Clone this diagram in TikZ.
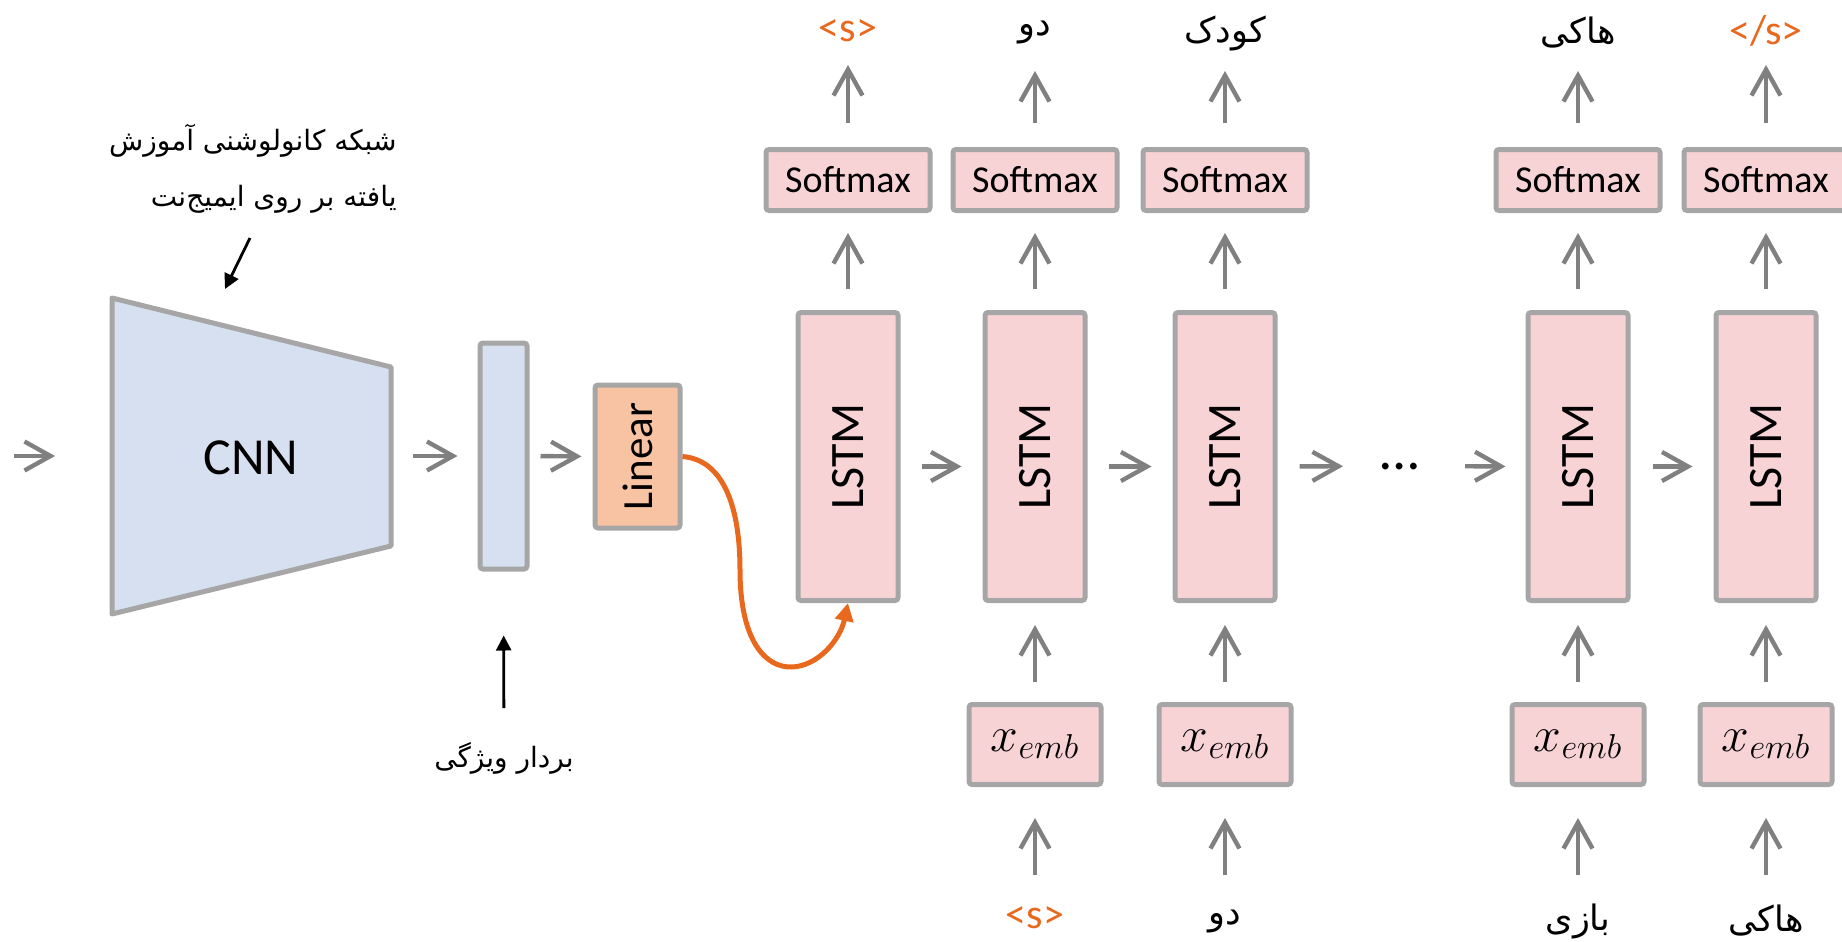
\documentclass[tikz,border=0pt]{standalone}
\usepackage{fontspec}
\setmainfont{Carlito}
\newfontfamily\fa[Script=Arabic]{DejaVu Sans}
\TeXXeTstate=1
\usetikzlibrary{arrows.meta,calc}
\definecolor{bord}{HTML}{A6A6A6}
\definecolor{garr}{HTML}{808080}
\definecolor{pinkf}{HTML}{F8D3D6}
\definecolor{bluef}{HTML}{D6E0F0}
\definecolor{linf}{HTML}{F7C3A3}
\definecolor{orng}{HTML}{E8681E}
\begin{document}
\begin{tikzpicture}[x=0.5pt,y=-0.5pt,
  box/.style={draw=bord,line width=2.5pt,rounded corners=1.5pt,inner sep=0pt},
  lstm/.style={box,fill=pinkf,minimum width=50pt,minimum height=144pt,font=\fontsize{24}{28}\selectfont},
  smax/.style={box,fill=pinkf,minimum width=82pt,minimum height=30.5pt,font=\fontsize{19}{22}\selectfont},
  emb/.style={box,fill=pinkf,minimum width=66pt,minimum height=40pt,font=\fontsize{26}{30}\selectfont},
  garrow/.style={draw=garr,line width=2.2pt,-{Straight Barb[length=13pt,width=14.5pt,line width=2.2pt]}},
  blk/.style={draw=black,line width=1.4pt,-{Triangle[length=7.5pt,width=7.5pt]}},
  lab/.style={font=\fontsize{17.5}{22}\selectfont\fa,inner sep=0pt},
  olab/.style={font=\fontsize{21}{24}\selectfont,text=orng,inner sep=0pt},
  ann/.style={font=\fontsize{14}{28}\selectfont\fa,inner sep=0pt,align=right}
]
\useasboundingbox (0,0) rectangle (1842,942);

% CNN
\draw[draw=bord,fill=bluef,line width=2.5pt,line join=round] (112,298) -- (391,367) -- (391,546) -- (112,614) -- cycle;
\node[font=\fontsize{26}{30}\selectfont] (cnn) at (251,458) {CNN};
\coordinate (in) at (14,456);
\coordinate (cnnL) at (112,456);
\coordinate (cnnR) at (391,456);

% feature vector and linear
\node[box,fill=bluef,minimum width=23.5pt,minimum height=113pt] (feat) at (503.5,456) {};
\node[box,fill=linf,minimum width=42.5pt,minimum height=71.5pt,font=\fontsize{21.5}{24}\selectfont] (lin) at (637.5,456.5) {\rotatebox{90}{Linear}};

\draw[garrow,shorten >=28.5pt] (in) -- (cnnL);
\draw[garrow,shorten <=11pt,shorten >=10pt] (cnnR) -- (feat.west);
\draw[garrow,shorten <=5.5pt,shorten >=5.5pt] (feat.east) -- (lin.west);

% LSTMs
\foreach \i/\x in {1/848,2/1035,3/1225,4/1578,5/1766}{
  \node[lstm] (L\i) at (\x,456.5) {\rotatebox{90}{LSTM}};
  \node[smax] (S\i) at (\x,180) {Softmax};
  \draw[garrow,shorten <=10.5pt,shorten >=10pt] (L\i.north) -- (S\i.south);
}
\foreach \i/\x in {2/1035,3/1225,4/1578,5/1766}{
  \node[emb] (E\i) at (\x,744.5) {$x_{emb}$};
  \draw[garrow,shorten <=10pt,shorten >=11pt] (E\i.north) -- (L\i.south);
}

% top labels
\node[olab] (t1) at (848,31) {<s>};
\node[lab] (t2) at (1035,33) {\beginR دو\endR};
\node[lab] (t3) at (1225,33) {\beginR کودک\endR};
\node[lab] (t4) at (1578,33) {\beginR هاکی\endR};
\node[olab] (t5) at (1766,31) {</s>};
\foreach \i/\s in {1/17,2/19,3/19,4/19,5/17}{
  \draw[garrow,shorten <=12pt,shorten >=\s pt] (S\i.north) -- (t\i.center);
}

% bottom labels
\node[olab] (b2) at (1035,918) {<s>};
\node[lab] (b3) at (1225,921) {\beginR دو\endR};
\node[lab] (b4) at (1578,921) {\beginR بازی\endR};
\node[lab] (b5) at (1766,921) {\beginR هاکی\endR};
\foreach \i/\s in {2/21.5,3/23,4/23,5/23}{
  \draw[garrow,shorten <=\s pt,shorten >=15.5pt] (b\i.center) -- (E\i.south);
}

% horizontal recurrent arrows
\node[font=\fontsize{28}{32}\selectfont,inner sep=0pt,anchor=base] (dots) at (1400,469) {\ldots};
\coordinate (dotsC) at (1400,466);
\draw[garrow,shorten <=10.5pt,shorten >=10.5pt] ($(L1.east)+(0,10)$) -- ($(L2.west)+(0,10)$);
\draw[garrow,shorten <=10.5pt,shorten >=10.5pt] ($(L2.east)+(0,10)$) -- ($(L3.west)+(0,10)$);
\draw[garrow,shorten <=11pt,shorten >=28.5pt] ($(L3.east)+(0,10)$) -- (dotsC);
\draw[garrow,shorten <=32.5pt,shorten >=10pt] (dotsC) -- ($(L4.west)+(0,10)$);
\draw[garrow,shorten <=11pt,shorten >=10.5pt] ($(L4.east)+(0,10)$) -- ($(L5.west)+(0,10)$);

% orange curve
\draw[orng,line width=2.5pt,-{Triangle[length=9pt,width=9pt]}] (lin.east) .. controls (725,460) and (740,510) .. (740,570) .. controls (740,640) and (765,668) .. (792,667) .. controls (818,666) and (840,640) .. (L1.south);

% annotations
\node[ann,anchor=east] (annT) at (397,169) {\beginR شبکه کانولوشنی آموزش\endR\\\beginR یافته بر روی ایمیج^^^^200cنت\endR};
\coordinate (annS) at (250,238);
\coordinate (annE) at (225,289);
\draw[blk] (annS) -- (annE);
\node[ann] (fl) at (504,758) {\beginR بردار ویژگی\endR};
\draw[blk,shorten <=25pt,shorten >=32pt] (fl.center) -- (feat.south);
\end{tikzpicture}
\end{document}
